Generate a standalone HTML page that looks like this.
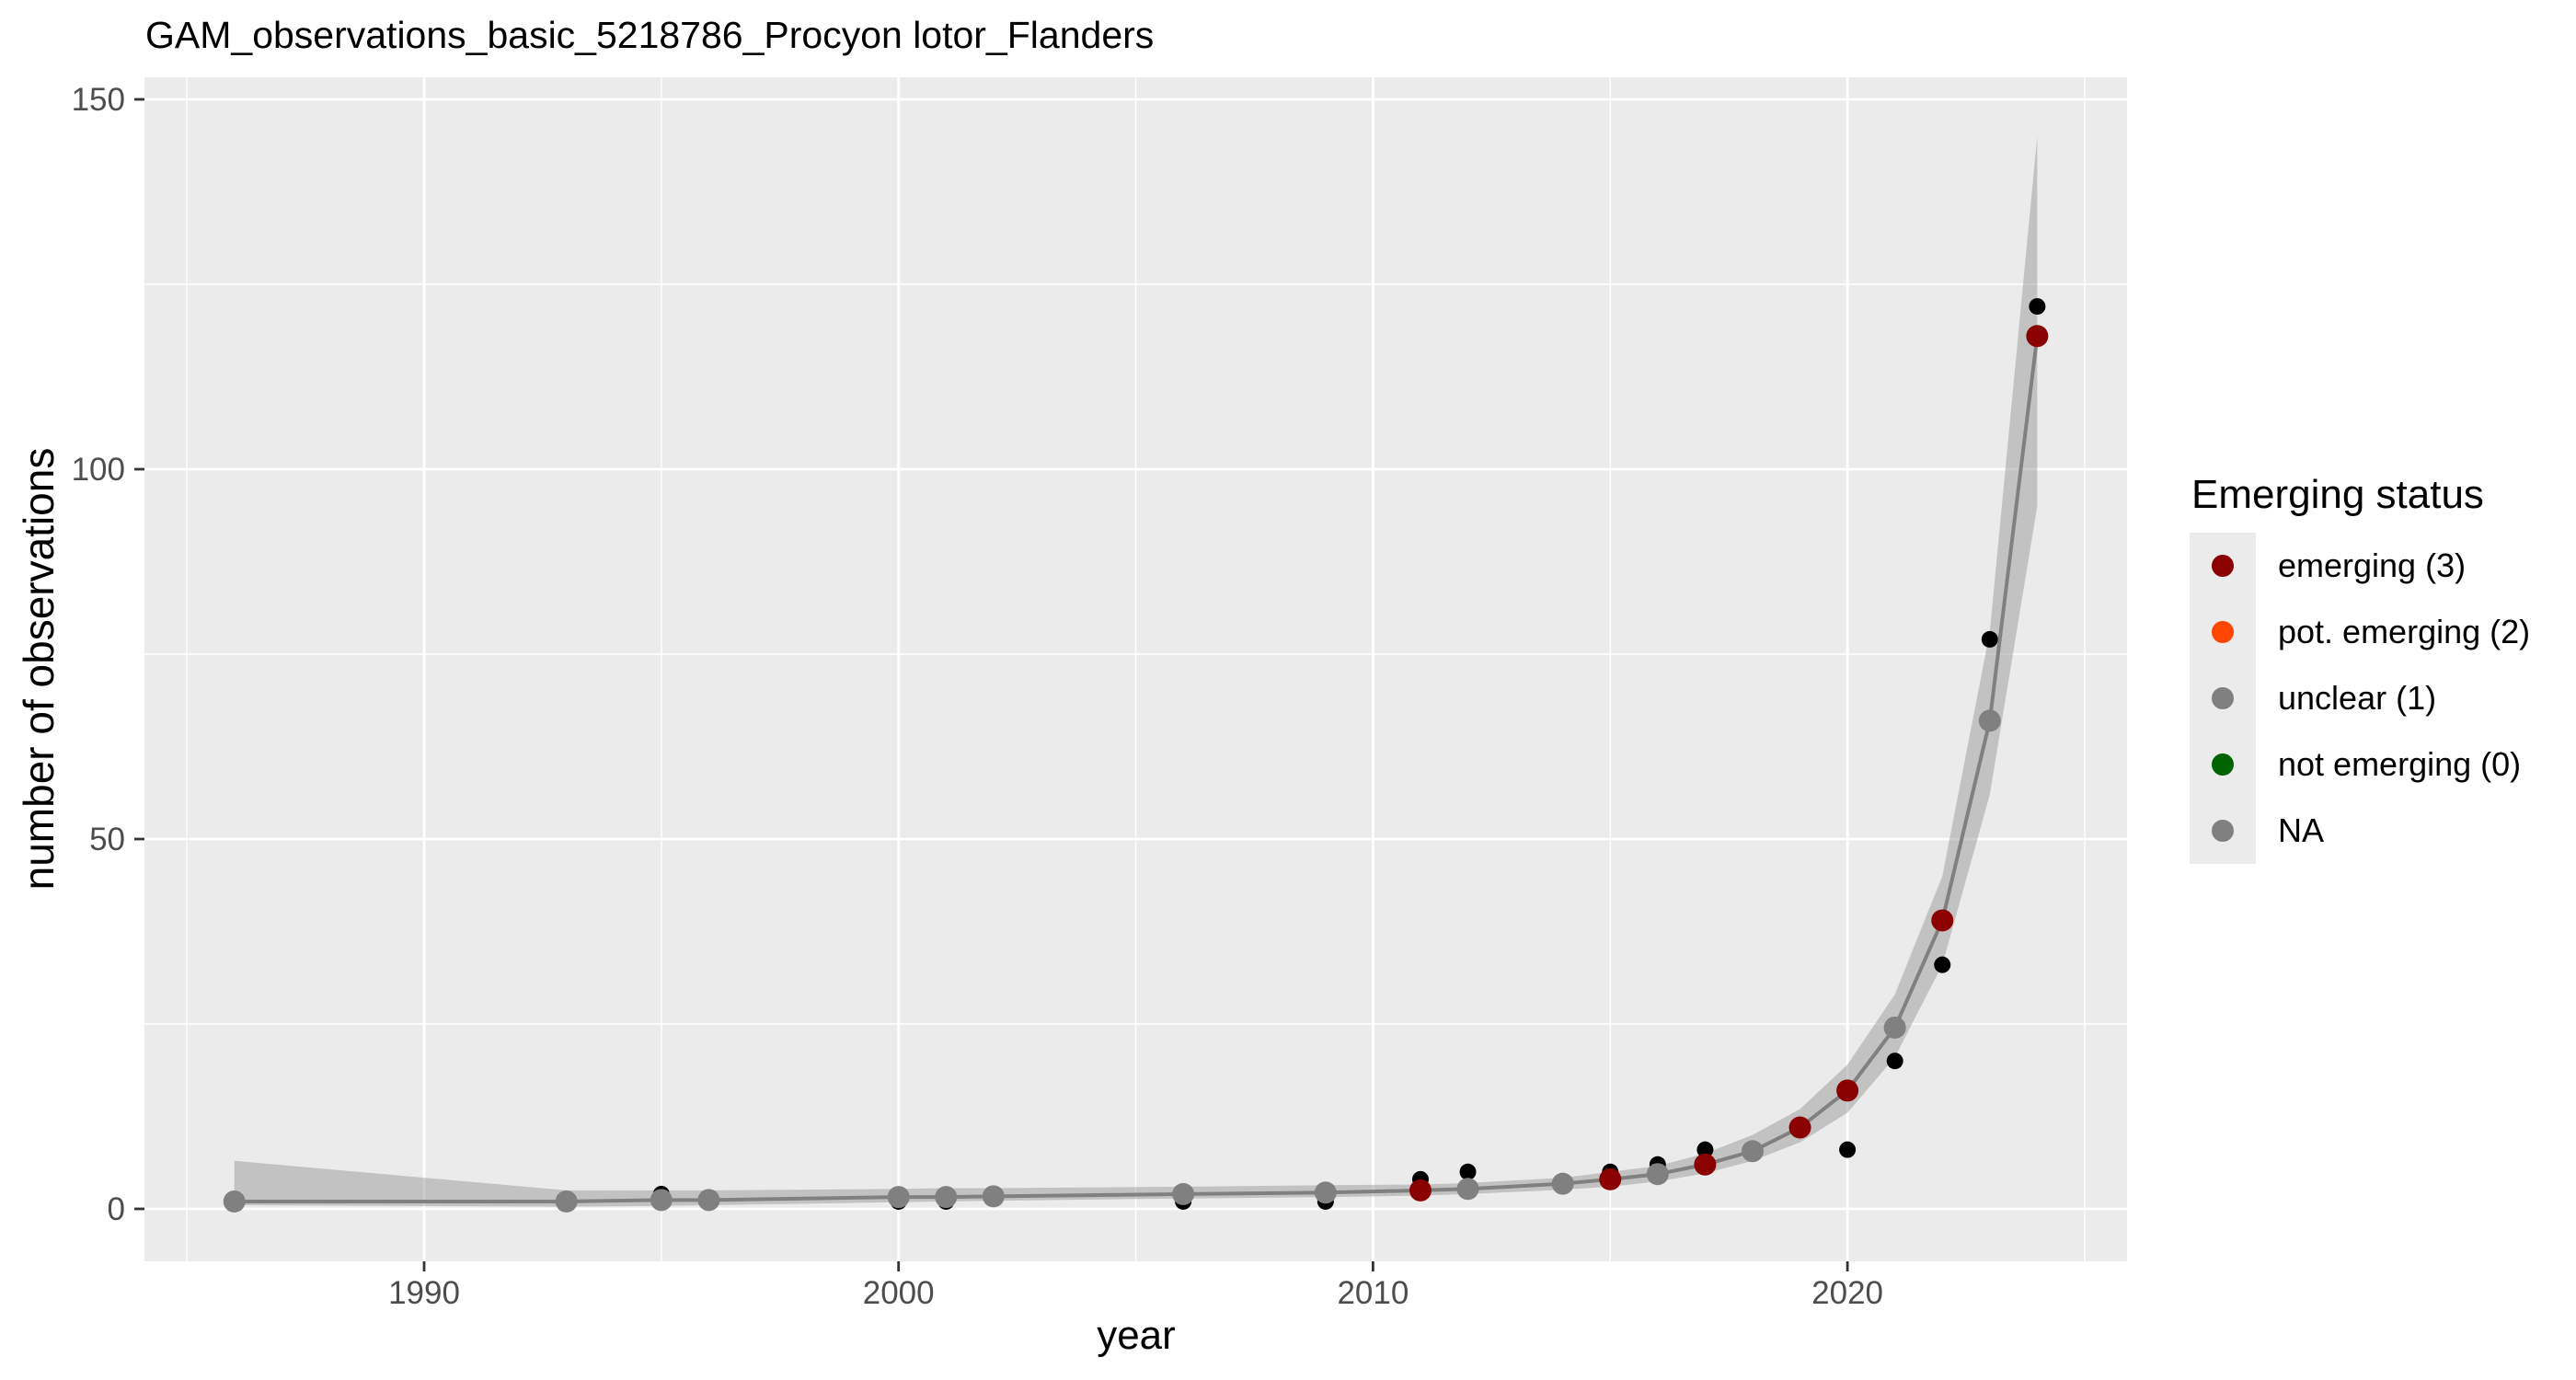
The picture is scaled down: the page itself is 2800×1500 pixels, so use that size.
<!DOCTYPE html>
<html><head><meta charset="utf-8"><style>
html,body{margin:0;padding:0;background:#fff;}
svg{display:block;font-family:"Liberation Sans",Arial,sans-serif;}
</style></head><body>
<svg id="chart" width="2800" height="1500" viewBox="0 0 2800 1500">
<rect x="0" y="0" width="2800" height="1500" fill="#fff"/>
<text x="158" y="52" font-size="41" fill="#000">GAM_observations_basic_5218786_Procyon lotor_Flanders</text>
<rect x="157" y="84" width="2155" height="1287" fill="#ebebeb"/>
<g id="grid"></g>
<g id="ribbon"></g>
<g id="obs"></g>
<g id="fit"></g>
<g id="axes"></g>
<text x="1235" y="1466" font-size="44" text-anchor="middle" fill="#000">year</text>
<text x="0" y="0" font-size="46" text-anchor="middle" fill="#000" transform="translate(58,727) rotate(-90)">number of observations</text>
<g>
<text x="2382" y="552" font-size="44" fill="#000">Emerging status</text>
<rect x="2380" y="579" width="72" height="360" fill="#ebebeb"/>
<g id="legend-items"></g>
</g>
</svg>
<script>
const years=[1986,1993,1995,1996,2000,2001,2002,2006,2009,2011,2012,2014,2015,2016,2017,2018,2019,2020,2021,2022,2023,2024];
const fitted=[1,1,1.2,1.2,1.6,1.6,1.7,2,2.2,2.5,2.7,3.4,4,4.7,6,7.8,11,16,24.5,39,66,118];
const observed=[1,1,2,1,1,1,1.6,1,1,4,5,3.2,5,6,8,7.8,11,8,20,33,77,122];
const ciLower=[0.5,0.3,0.4,0.5,0.9,1,1.1,1.4,1.6,1.8,2,2.6,3,3.7,4.8,6.5,9,13,20.5,33,56,95];
const ciUpper=[6.5,2.5,2.5,2.5,2.7,2.8,2.8,3,3.2,3.3,3.5,4.2,5,5.8,7.5,10,13.5,19.5,29,45,78,145];
const status=[1,1,1,1,1,1,1,1,1,3,1,1,3,1,3,1,3,3,1,3,1,3];
const xTicks=[1990,2000,2010,2020];
const xMinor=[1985,1995,2005,2015,2025];
const yTicks=[0,50,100,150];
const yMinor=[25,75,125];
const legendLabels=["emerging (3)","pot. emerging (2)","unclear (1)","not emerging (0)","NA"];
const legendColors=["#8b0000","#ff4500","#808080","#006400","#808080"];
const statusColor={3:"#8b0000",2:"#ff4500",1:"#808080",0:"#006400"};

const X0=157,X1=2312,Y0=84,Y1=1371;
const xs=yr=>461+(yr-1990)*51.57;
const ys=v=>1314-v*8.04;
const NS="http://www.w3.org/2000/svg";
function mk(tag,attrs,parent){const e=document.createElementNS(NS,tag);for(const k in attrs)e.setAttribute(k,attrs[k]);parent.appendChild(e);return e;}

const grid=document.getElementById('grid');
yMinor.forEach(v=>{const l=mk('line',{x1:X0,x2:X1,y1:ys(v),y2:ys(v),stroke:'#fff','stroke-width':1.4},grid);

});
xMinor.forEach(v=>{const l=mk('line',{x1:xs(v),x2:xs(v),y1:Y0,y2:Y1,stroke:'#fff','stroke-width':1.4},grid);

});
yTicks.forEach(v=>{const l=mk('line',{x1:X0,x2:X1,y1:ys(v),y2:ys(v),stroke:'#fff','stroke-width':2.8},grid);

});
xTicks.forEach(v=>{const l=mk('line',{x1:xs(v),x2:xs(v),y1:Y0,y2:Y1,stroke:'#fff','stroke-width':2.8},grid);

});

const rib=document.getElementById('ribbon');
let pts=years.map((y,i)=>xs(y)+','+ys(ciUpper[i]));
for(let i=years.length-1;i>=0;i--)pts.push(xs(years[i])+','+ys(ciLower[i]));
const poly=mk('polygon',{points:pts.join(' '),fill:'#999','fill-opacity':0.5},rib);



const obs=document.getElementById('obs');
years.forEach((y,i)=>{const c=mk('circle',{cx:xs(y),cy:ys(observed[i]),r:9,fill:'#000'},obs);

});

const fit=document.getElementById('fit');
const pl=mk('polyline',{points:years.map((y,i)=>xs(y)+','+ys(fitted[i])).join(' '),fill:'none',stroke:'#808080','stroke-width':4},fit);


years.forEach((y,i)=>{const c=mk('circle',{cx:xs(y),cy:ys(fitted[i]),r:12,fill:statusColor[status[i]]},fit);

});

const axes=document.getElementById('axes');
yTicks.forEach(v=>{
const t=mk('line',{x1:146,x2:157,y1:ys(v),y2:ys(v),stroke:'#333','stroke-width':2.8},axes);


const tx=mk('text',{x:136,y:ys(v)+12,'font-size':35,'text-anchor':'end',fill:'#4d4d4d'},axes);
tx.textContent=v;

});
xTicks.forEach(v=>{
const t=mk('line',{x1:xs(v),x2:xs(v),y1:1371,y2:1382,stroke:'#333','stroke-width':2.8},axes);


const tx=mk('text',{x:xs(v),y:1417,'font-size':35,'text-anchor':'middle',fill:'#4d4d4d'},axes);
tx.textContent=v;

});

const lg=document.getElementById('legend-items');
legendLabels.forEach((lab,i)=>{const cy=615+i*72;
const c=mk('circle',{cx:2416,cy:cy,r:12,fill:legendColors[i]},lg);


const t=mk('text',{x:2476,y:cy+12,'font-size':36,fill:'#000'},lg);
t.textContent=lab;

});
</script>
</body></html>
